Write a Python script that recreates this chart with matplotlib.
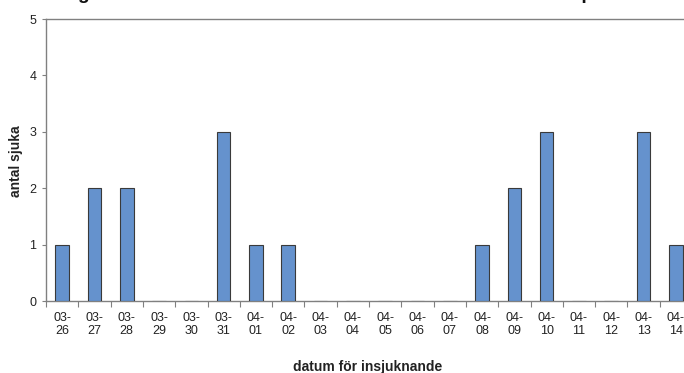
import matplotlib
matplotlib.use("Agg")
import matplotlib.pyplot as plt
import numpy as np

plt.rcParams['font.family'] = ['Liberation Sans', 'DejaVu Sans']

dates = ["03-26", "03-27", "03-28", "03-29", "03-30", "03-31", "04-01", "04-02",
         "04-03", "04-04", "04-05", "04-06", "04-07", "04-08", "04-09", "04-10",
         "04-11", "04-12", "04-13", "04-14"]
cases = [1, 2, 2, 0, 0, 3, 1, 1, 0, 0, 0, 0, 0, 1, 2, 3, 0, 0, 3, 1]
tick_labels = [d.replace("-", "-\n") for d in dates]
title = "Figur 1. Antal fall i utbrottet under månaderna mars och april"

W, H = 684, 373
fig = plt.figure(figsize=(W / 100, H / 100), dpi=100)
n = len(dates)
cw = 32.3
left = 46 / W
ax = fig.add_axes([left, (H - 301) / H, n * cw / W, (301 - 19) / H])

x = np.arange(n)
ax.bar(x, cases, width=0.42, color="#6592CD", edgecolor="#3a3a3a", linewidth=0.8, zorder=3)

ax.set_xlim(-0.5, n - 0.5)
ax.set_ylim(0, 5)
ax.set_yticks(range(6))
ax.tick_params(axis='y', length=3, width=0.8, color="#808080", labelsize=9, pad=4, labelcolor="#222222")

ax.set_xticks(np.arange(n + 1) - 0.5)
ax.set_xticklabels([])
ax.tick_params(axis='x', which='major', length=4, width=0.8, color="#808080")
ax.set_xticks(x, minor=True)
ax.set_xticklabels(tick_labels, minor=True, fontsize=9, color="#222222", linespacing=1.05)
ax.tick_params(axis='x', which='minor', length=0, pad=8)

for s in ["left", "bottom", "top", "right"]:
    ax.spines[s].set_color("#808080")
    ax.spines[s].set_linewidth(1.0)

fig.text(16 / W, 1 - 161 / H, "antal sjuka", rotation=90, ha="center", va="center",
         fontsize=10, fontweight="bold", color="#222222")
fig.text(368 / W, 1 - 371 / H, "datum för insjuknande", ha="center", va="baseline",
         fontsize=10, fontweight="bold", color="#222222")
fig.text(61 / W, 1.0 + 1 / H, title, ha="left", va="baseline", fontsize=13.8,
         fontweight="bold", color="#111111")

fig.savefig("out.png", dpi=100)
